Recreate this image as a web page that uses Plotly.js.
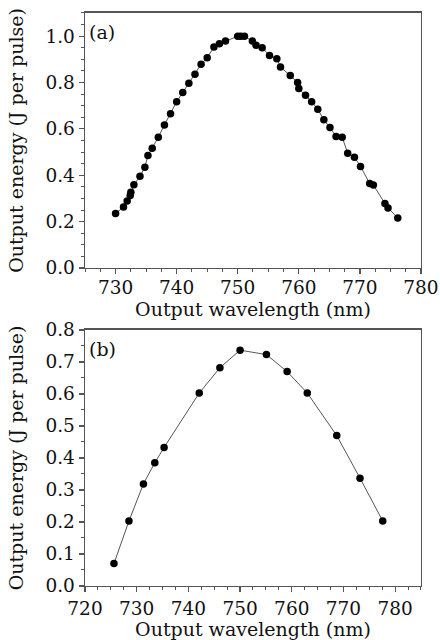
<!DOCTYPE html>
<html>
<head>
<meta charset="utf-8">
<script src="https://cdn.plot.ly/plotly-3.0.1.min.js"></script>
<style>html,body{margin:0;padding:0;background:#fff;}#chart{width:440px;height:640px;}</style>
</head>
<body>
<div id="chart"></div>
<script>
// Panel (a)
var wavelengthA = [730.0,731.3,731.9,732.4,732.5,733.0,734.0,734.8,735.3,736.0,737.0,738.0,739.0,740.0,741.0,742.0,743.0,744.0,745.0,746.1,747.0,748.0,750.0,750.5,751.1,752.4,753.0,754.0,755.2,756.4,757.0,758.6,759.8,760.0,761.1,762.1,763.1,764.1,765.1,766.1,767.1,768.0,769.1,770.1,771.6,772.2,774.1,774.6,776.2];
var energyA = [0.235,0.263,0.289,0.313,0.327,0.359,0.396,0.435,0.485,0.516,0.564,0.617,0.665,0.717,0.757,0.797,0.836,0.879,0.907,0.953,0.967,0.979,1.0,1.0,1.0,0.979,0.961,0.950,0.917,0.903,0.867,0.830,0.800,0.774,0.745,0.717,0.685,0.639,0.606,0.567,0.564,0.495,0.478,0.438,0.364,0.358,0.278,0.259,0.216];
// Panel (b)
var wavelengthB = [725.6,728.5,731.3,733.5,735.3,742.1,746.1,750.0,755.1,759.1,763.0,768.7,773.2,777.6];
var energyB = [0.070,0.203,0.319,0.385,0.433,0.603,0.682,0.737,0.723,0.670,0.603,0.470,0.337,0.203];
var xTitle = "Output wavelength (nm)";
var yTitle = "Output energy (J per pulse)";
var labelA = "(a)", labelB = "(b)";

var FONT = "DejaVu Serif, Liberation Serif, serif";
var TXT = "#111111";
var FRAME = "#555555";

function trace(x, y, xa, ya) {
  return {x: x, y: y, xaxis: xa, yaxis: ya, type: "scatter", mode: "lines+markers",
    line: {color: "#555555", width: 1},
    marker: {color: "#000000", size: 7.5},
    showlegend: false, hoverinfo: "skip"};
}

function axisBase() {
  return {
    showline: true, linecolor: FRAME, linewidth: 1.5, mirror: true,
    ticks: "outside", ticklen: 5, tickwidth: 1.2, tickcolor: FRAME,
    showgrid: false, zeroline: false,
    tickfont: {family: FONT, size: 18.5, color: TXT},
    title: {font: {family: FONT, size: 19, color: TXT}}
  };
}

var xa1 = axisBase();
Object.assign(xa1, {domain: [0.1932, 0.9568], range: [725, 780], tick0: 730, dtick: 10,
  anchor: "y", ticklabelstandoff: -3,
  minor: {dtick: 2.5, ticklen: 3, tickcolor: FRAME, ticks: "outside", tickwidth: 1}});
xa1.title.text = xTitle; xa1.title.standoff = 0;

var ya1 = axisBase();
Object.assign(ya1, {domain: [0.5813, 0.9797], range: [0, 1.1], tick0: 0, dtick: 0.2, tickformat: ".1f",
  anchor: "x", minor: {dtick: 0.05, ticklen: 3, tickcolor: FRAME, ticks: "outside", tickwidth: 1}});
ya1.title.text = yTitle; ya1.title.standoff = 16;

var xa2 = axisBase();
Object.assign(xa2, {domain: [0.1932, 0.9568], range: [720, 785], tick0: 720, dtick: 10,
  anchor: "y2", minor: {dtick: 2.5, ticklen: 3, tickcolor: FRAME, ticks: "outside", tickwidth: 1}});
xa2.title.text = xTitle; xa2.title.standoff = 0;

var ya2 = axisBase();
Object.assign(ya2, {domain: [0.0844, 0.4844], range: [0, 0.8], tick0: 0, dtick: 0.1, tickformat: ".1f",
  anchor: "x2", minor: {dtick: 0.05, ticklen: 3, tickcolor: FRAME, ticks: "outside", tickwidth: 1}});
ya2.title.text = yTitle; ya2.title.standoff = 16;

var layout = {
  width: 440, height: 640,
  margin: {l: 0, r: 0, t: 0, b: 0},
  paper_bgcolor: "#ffffff", plot_bgcolor: "#ffffff",
  font: {family: FONT, color: TXT},
  xaxis: xa1, yaxis: ya1, xaxis2: xa2, yaxis2: ya2,
  annotations: [
    {text: labelA, xref: "x domain", yref: "y domain", x: 0.005, y: 0.975, xanchor: "left", yanchor: "top",
     showarrow: false, font: {family: FONT, size: 19, color: TXT}},
    {text: labelB, xref: "x2 domain", yref: "y2 domain", x: 0.005, y: 0.975, xanchor: "left", yanchor: "top",
     showarrow: false, font: {family: FONT, size: 19, color: TXT}}
  ]
};

Plotly.newPlot("chart", [trace(wavelengthA, energyA, "x", "y"), trace(wavelengthB, energyB, "x2", "y2")], layout, {displayModeBar: false, staticPlot: true});
</script>
</body>
</html>
